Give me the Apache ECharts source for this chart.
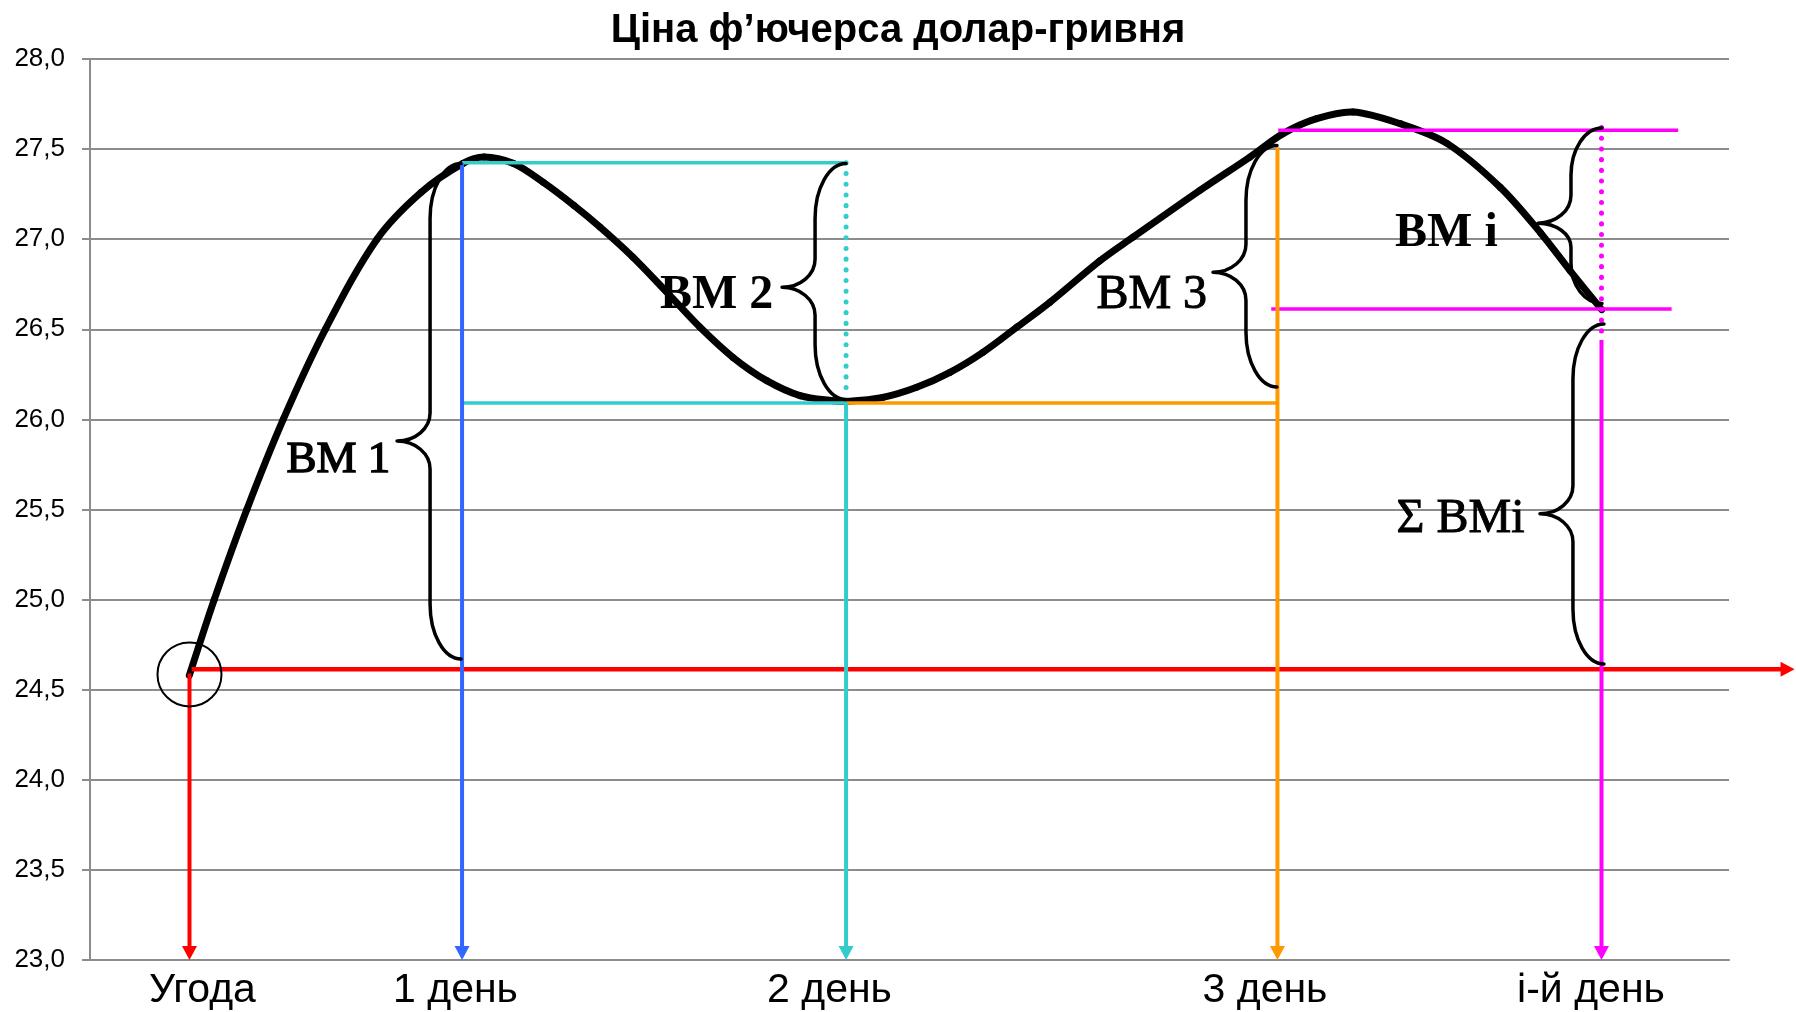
<!DOCTYPE html>
<html>
<head>
<meta charset="utf-8">
<script src="https://cdn.jsdelivr.net/npm/echarts@6/dist/echarts.min.js"></script>
<style>html,body{margin:0;padding:0;background:#fff}#c{width:1796px;height:1012px}</style>
</head>
<body>
<div id="c"></div>
<script>
// ---------- DATA ----------
const chartTitle = 'Ціна ф’ючерса долар-гривня';
const yMin = 23, yMax = 28, yStep = 0.5;
const xMin = 0, xMax = 100;

// x-axis (time) labels and where they sit
const dayLabels = ['Угода', '1 день', '2 день', '3 день', 'і-й день'];
const dayLabelX = [6.86, 22.3, 45.12, 71.69, 91.58];

// futures price curve
const curveX = [6.06, 7.58, 9.57, 11.79, 14.36, 17.51, 20.20, 22.76, 24.04, 25.81, 27.66, 29.53, 31.12,
  33.13, 35.19, 37.22, 39.23, 41.29, 43.32, 45.33, 46.17, 48.38, 50.44, 52.47, 54.48, 56.54, 58.57,
  61.62, 63.64, 67.72, 70.77, 72.79, 74.84, 77.06, 79.93, 82.79, 86.03, 88.53, 90.30, 92.23];
const curveY = [24.58, 25.0, 25.5, 26.0, 26.5, 27.0, 27.26, 27.421, 27.456, 27.421, 27.315, 27.187, 27.067,
  26.90, 26.706, 26.511, 26.344, 26.215, 26.132, 26.104, 26.10, 26.122, 26.178, 26.261, 26.372, 26.511, 26.65,
  26.88, 27.011, 27.271, 27.456, 27.586, 27.669, 27.706, 27.641, 27.532, 27.289, 27.032, 26.826, 26.609];

// settlement days: vertical drop arrows (x, top value) down to the axis minimum
const dropX = [6.07, 22.70, 46.13, 72.45, 92.22];
const dropTop = [24.59, 27.42, 26.094, 27.51, 26.44];

// dotted verticals
const dottedX = [46.13, 92.22];
const dottedTop = [27.424, 27.62];
const dottedBottom = [26.12, 26.49];

// horizontal price levels
const levelStart = [22.70, 22.70, 46.13, 72.50, 72.07];
const levelEnd = [46.13, 46.13, 72.45, 96.90, 96.50];
const levelY = [27.424, 26.091, 26.091, 27.604, 26.613];

// deal price line (arrow to the right)
const dealX = 6.2, dealPrice = 24.613, dealArrowEnd = 104;
const dealPointX = 6.07, dealPointY = 24.585;

// variation-margin braces: attach x, top, bottom, tip
const braceX = [22.64, 46.13, 72.42, 92.25, 92.37];
const braceTop = [27.42, 27.42, 27.52, 27.617, 26.53];
const braceBottom = [24.67, 26.11, 26.18, 26.643, 24.643];
const braceTip = [25.88, 26.733, 26.817, 27.089, 25.476];

// annotation texts and their anchor values
const noteText = ['ВМ 1', 'ВМ 2', 'ВМ 3', 'ВМ і', 'Σ ВМі'];
const noteX = [15.16, 38.23, 64.78, 82.76, 83.62];
const noteY = [25.773, 26.687, 26.69, 27.029, 25.443];

// ---------- STYLE ----------
const dropColors = ['#ff0000', '#3366ff', '#33cccc', '#ff9900', '#ff00ff'];
const dottedColors = ['#33cccc', '#ff00ff'];
const levelColors = ['#33cccc', '#33cccc', '#ff9900', '#ff00ff', '#ff00ff'];
const noteWeights = ['normal', 'bold', 'normal', 'bold', 'normal'];
const noteStroke = [1.4, 0, 1.0, 0, 0.9];
const noteSizes = [45, 48, 48, 48, 48];
const gridGray = '#8c8c8c';
const sans = '"Liberation Sans", Arial, sans-serif';
const serif = '"Liberation Serif", "Times New Roman", serif';

function bracePath(x0, yT, yB, yM) {
  const s = x0 - 31, t = x0 - 64, k = 0.552;
  const h1 = yM - yT, h2 = yB - yM;
  const rE1 = Math.min(55, h1 * 0.5), rT1 = Math.min(28, h1 * 0.3);
  const rE2 = Math.min(55, h2 * 0.5), rT2 = Math.min(28, h2 * 0.3);
  return 'M' + x0 + ' ' + yT +
    ' C' + (x0 - k * (x0 - s)) + ' ' + yT + ' ' + s + ' ' + (yT + rE1 * (1 - k)) + ' ' + s + ' ' + (yT + rE1) +
    ' L' + s + ' ' + (yM - rT1) +
    ' C' + s + ' ' + (yM - rT1 * (1 - k)) + ' ' + (t + k * (s - t)) + ' ' + yM + ' ' + t + ' ' + yM +
    ' C' + (t + k * (s - t)) + ' ' + yM + ' ' + s + ' ' + (yM + rT2 * (1 - k)) + ' ' + s + ' ' + (yM + rT2) +
    ' L' + s + ' ' + (yB - rE2) +
    ' C' + s + ' ' + (yB - rE2 * (1 - k)) + ' ' + (x0 - k * (x0 - s)) + ' ' + yB + ' ' + x0 + ' ' + yB;
}

// chord-length Catmull-Rom segment (pixel points) -> cubic bezier controls
function crControls(p0, p1, p2, p3) {
  const dist = (a, b) => Math.hypot(b[0] - a[0], b[1] - a[1]);
  const d01 = dist(p0, p1), d12 = dist(p1, p2), d23 = dist(p2, p3);
  let c1, c2;
  if (d01 < 1e-6) c1 = [p1[0] + (p2[0] - p1[0]) / 3, p1[1] + (p2[1] - p1[1]) / 3];
  else {
    const f = d12 / (3 * (d01 + d12));
    c1 = [p1[0] + (p2[0] - p0[0]) * f, p1[1] + (p2[1] - p0[1]) * f];
  }
  if (d23 < 1e-6) c2 = [p2[0] - (p2[0] - p1[0]) / 3, p2[1] - (p2[1] - p1[1]) / 3];
  else {
    const f = d12 / (3 * (d12 + d23));
    c2 = [p2[0] - (p3[0] - p1[0]) * f, p2[1] - (p3[1] - p1[1]) * f];
  }
  return [c1, c2];
}

const chart = echarts.init(document.getElementById('c'), null, { renderer: 'canvas' });
chart.setOption({
  animation: false,
  backgroundColor: '#fff',
  title: {
    text: chartTitle, left: 'center', top: 6,
    textStyle: { fontFamily: sans, fontSize: 40, fontWeight: 'bold', color: '#000' }
  },
  grid: { left: 90, right: 67, top: 59, bottom: 52, containLabel: false },
  xAxis: {
    type: 'value', min: xMin, max: xMax,
    axisLine: { show: true, lineStyle: { color: gridGray, width: 2 } },
    axisTick: { show: false },
    splitLine: { show: false },
    axisLabel: {
      customValues: dayLabelX,
      formatter: v => dayLabels[dayLabelX.indexOf(v)] || '',
      fontFamily: sans, fontSize: 41, color: '#000', margin: 10
    }
  },
  yAxis: {
    type: 'value', min: yMin, max: yMax, interval: yStep,
    axisLine: { show: true, lineStyle: { color: gridGray, width: 2 } },
    axisTick: { show: true, length: 8, inside: false, lineStyle: { color: gridGray, width: 2 } },
    splitLine: { show: true, lineStyle: { color: gridGray, width: 2 } },
    axisLabel: {
      formatter: v => v.toFixed(1).replace('.', ','),
      fontFamily: sans, fontSize: 26, color: '#000', margin: 25
    }
  },
  series: [
    { // futures price curve, one smooth segment per data point
      name: 'price', type: 'custom', z: 2, clip: false,
      data: curveX.map((x, i) => [x, curveY[i]]),
      renderItem(params, api) {
        const i = params.dataIndex, n = curveX.length;
        if (i >= n - 1) return null;
        const P = j => api.coord([curveX[Math.max(0, Math.min(n - 1, j))], curveY[Math.max(0, Math.min(n - 1, j))]]);
        const p0 = P(i - 1), p1 = P(i), p2 = P(i + 1), p3 = P(i + 2);
        const [c1, c2] = crControls(p0, p1, p2, p3);
        return { type: 'bezierCurve',
          shape: { x1: p1[0], y1: p1[1], cpx1: c1[0], cpy1: c1[1], cpx2: c2[0], cpy2: c2[1], x2: p2[0], y2: p2[1] },
          style: { fill: 'none', stroke: '#000', lineWidth: 7, lineCap: 'round' } };
      }
    },
    { // level lines
      type: 'custom', z: 3, clip: false,
      data: levelStart.map((x, i) => [x, levelY[i], levelEnd[i]]),
      renderItem(params, api) {
        const a = api.coord([api.value(0), api.value(1)]);
        const b = api.coord([api.value(2), api.value(1)]);
        return { type: 'line', shape: { x1: a[0], y1: a[1], x2: b[0], y2: b[1] },
          style: { stroke: levelColors[params.dataIndex], lineWidth: 3.5 } };
      }
    },
    { // deal price arrow to the right
      type: 'custom', z: 3, clip: false,
      data: [[dealX, dealPrice, dealArrowEnd]],
      renderItem(params, api) {
        const a = api.coord([api.value(0), api.value(1)]);
        const b = api.coord([api.value(2), api.value(1)]);
        return { type: 'group', children: [
          { type: 'line', shape: { x1: a[0], y1: a[1], x2: b[0] - 12, y2: b[1] }, style: { stroke: dropColors[0], lineWidth: 4.5 } },
          { type: 'polygon', shape: { points: [[b[0] - 14, b[1] - 7.5], [b[0] - 14, b[1] + 7.5], [b[0], b[1]]] }, style: { fill: dropColors[0] } }
        ] };
      }
    },
    { // vertical drop arrows
      type: 'custom', z: 3, clip: false,
      data: dropX.map((x, i) => [x, dropTop[i], yMin]),
      renderItem(params, api) {
        const a = api.coord([api.value(0), api.value(1)]);
        const b = api.coord([api.value(0), api.value(2)]);
        const c = dropColors[params.dataIndex];
        return { type: 'group', children: [
          { type: 'line', shape: { x1: a[0], y1: a[1], x2: b[0], y2: b[1] - 12 }, style: { stroke: c, lineWidth: 4 } },
          { type: 'polygon', shape: { points: [[b[0] - 7.5, b[1] - 14], [b[0] + 7.5, b[1] - 14], [b[0], b[1]]] }, style: { fill: c } }
        ] };
      }
    },
    { // dotted verticals
      type: 'custom', z: 3, clip: false,
      data: dottedX.map((x, i) => [x, dottedTop[i], dottedBottom[i]]),
      renderItem(params, api) {
        const a = api.coord([api.value(0), api.value(1)]);
        const b = api.coord([api.value(0), api.value(2)]);
        return { type: 'line', shape: { x1: a[0], y1: a[1], x2: b[0], y2: b[1] },
          style: { stroke: dottedColors[params.dataIndex], lineWidth: 5, lineCap: 'round', lineDash: [0.1, 10.6] } };
      }
    },
    { // circle at deal point
      type: 'custom', z: 4, clip: false,
      data: [[dealPointX, dealPointY]],
      renderItem(params, api) {
        const p = api.coord([api.value(0), api.value(1)]);
        return { type: 'circle', shape: { cx: p[0], cy: p[1], r: 32 }, style: { fill: 'none', stroke: '#000', lineWidth: 2 } };
      }
    },
    { // braces
      type: 'custom', z: 5, clip: false,
      data: braceX.map((x, i) => [x, braceTop[i], braceBottom[i], braceTip[i]]),
      renderItem(params, api) {
        const t = api.coord([api.value(0), api.value(1)]);
        const b = api.coord([api.value(0), api.value(2)]);
        const m = api.coord([api.value(0), api.value(3)]);
        return { type: 'path', shape: { pathData: bracePath(t[0], t[1], b[1], m[1]) },
          style: { fill: 'none', stroke: '#000', lineWidth: 3.5, lineCap: 'round', lineJoin: 'round' } };
      }
    },
    { // notes
      type: 'custom', z: 6, clip: false,
      data: noteX.map((x, i) => [x, noteY[i]]),
      renderItem(params, api) {
        const i = params.dataIndex;
        const p = api.coord([api.value(0), api.value(1)]);
        const st = { text: noteText[i], fontFamily: serif, fontSize: noteSizes[i],
          fontWeight: noteWeights[i], fill: '#000', align: 'center', verticalAlign: 'middle' };
        if (noteStroke[i] > 0) { st.stroke = '#000'; st.lineWidth = noteStroke[i]; }
        return { type: 'text', x: p[0], y: p[1], style: st };
      }
    }
  ]
});
</script>
</body>
</html>
